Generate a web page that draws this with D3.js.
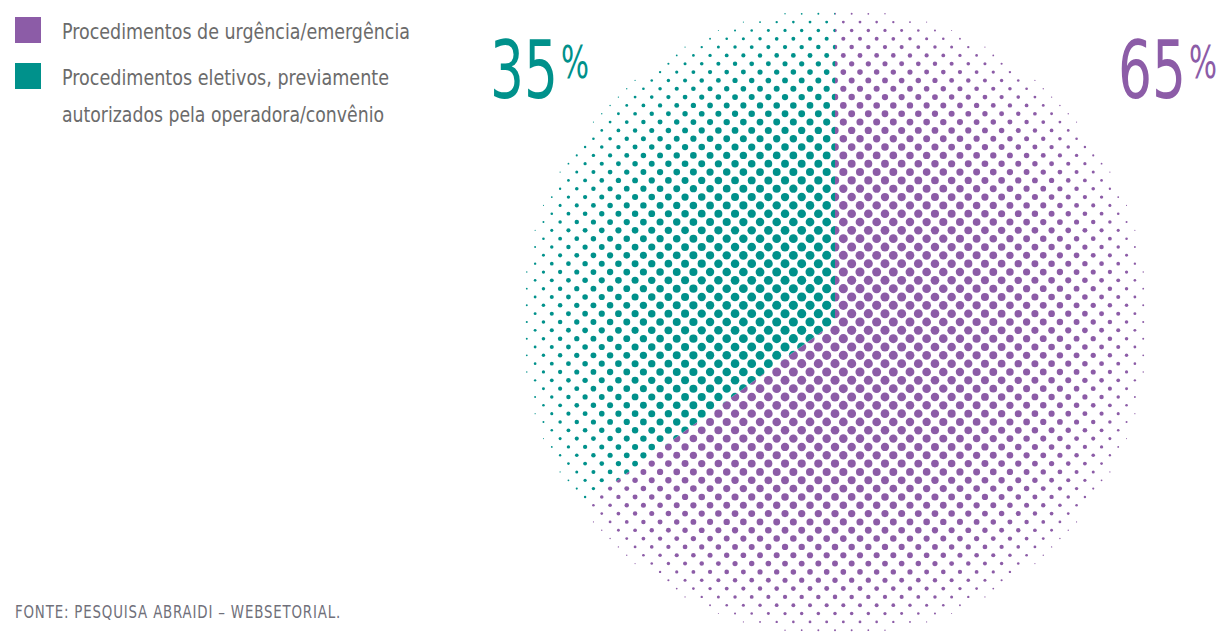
<!DOCTYPE html>
<html>
<head>
<meta charset="utf-8">
<script src="https://cdn.jsdelivr.net/npm/d3@7"></script>
<style>
  body { margin: 0; background: #fff; }
  svg { display: block; }
  text { font-family: "Liberation Sans Narrow", "DejaVu Sans Condensed", sans-serif; }
</style>
</head>
<body>
<script>
// data
var categories = ["Procedimentos de urgência/emergência",
                  "Procedimentos eletivos, previamente autorizados pela operadora/convênio"];
var values = [65, 35];
var colors = ["#8c5ca7", "#00918b"];
var legendLines = [["Procedimentos de urgência/emergência"],
                   ["Procedimentos eletivos, previamente", "autorizados pela operadora/convênio"]];
var legendWidths = [[348], [327], [322]];
var source = "FONTE: PESQUISA ABRAIDI – WEBSETORIAL.";

var width = 1220, height = 632;
var cx = 835, cy = 322, R = 316;
var step = 8.33;     // half-spacing of the staggered dot grid
var maxDot = 4.6;

var svg = d3.select("body").append("svg")
    .attr("width", width)
    .attr("height", height);

// halftone mask: dots shrink towards the rim
var dots = [];
for (var j = -40; j <= 40; j++) {
  for (var i = -40; i <= 40; i++) {
    if (Math.abs(i + j) % 2 != 1) continue;
    var x = i * step, y = j * step;
    var d = Math.sqrt(x * x + y * y);
    if (d >= R) continue;
    var r = maxDot * Math.sqrt(1 - (d / R) * (d / R));
    if (r < 0.4) continue;
    dots.push({x: cx + x, y: cy + y, r: r});
  }
}

var mask = svg.append("defs").append("mask")
    .attr("id", "dots")
    .attr("maskUnits", "userSpaceOnUse")
    .attr("x", 0).attr("y", 0)
    .attr("width", width).attr("height", height);

mask.selectAll("circle")
    .data(dots)
    .enter().append("circle")
    .attr("cx", function(d) { return d.x; })
    .attr("cy", function(d) { return d.y; })
    .attr("r", function(d) { return d.r; })
    .attr("fill", "#fff");

var pie = d3.pie().sort(null).startAngle(0).endAngle(2 * Math.PI);
var arc = d3.arc().innerRadius(0).outerRadius(R + 10);

svg.append("g")
    .attr("mask", "url(#dots)")
  .append("g")
    .attr("transform", "translate(" + cx + "," + cy + ")")
  .selectAll("path")
    .data(pie(values))
    .enter().append("path")
    .attr("d", arc)
    .attr("fill", function(d, i) { return colors[i]; });

// percentage labels
var pctPos = [{x: 1118}, {x: 490}];
values.forEach(function(v, i) {
  svg.append("text")
      .attr("x", pctPos[i].x)
      .attr("y", 98)
      .attr("fill", colors[i])
      .attr("textLength", 68)
      .attr("lengthAdjust", "spacingAndGlyphs")
      .style("font-size", "80px")
      .text(v);
  svg.append("text")
      .attr("x", pctPos[i].x + 71)
      .attr("y", 78)
      .attr("fill", colors[i])
      .attr("textLength", 28)
      .attr("lengthAdjust", "spacingAndGlyphs")
      .style("font-size", "44px")
      .text("%");
});

// legend
var legendY = [17, 63];
var legend = svg.append("g");
var lineNo = 0;
legendLines.forEach(function(lines, i) {
  legend.append("rect")
      .attr("x", 15)
      .attr("y", legendY[i])
      .attr("width", 26)
      .attr("height", 26)
      .attr("fill", colors[i]);
  lines.forEach(function(line, k) {
    legend.append("text")
        .attr("x", 62)
        .attr("y", legendY[i] + 22 + k * 36.5)
        .attr("fill", "#6b6b6b")
        .attr("textLength", legendWidths[lineNo++][0])
        .attr("lengthAdjust", "spacingAndGlyphs")
        .style("font-size", "21px")
        .text(line);
  });
});

// source
svg.append("text")
    .attr("x", 15)
    .attr("y", 618)
    .attr("fill", "#70707a")
    .attr("textLength", 326)
    .attr("lengthAdjust", "spacingAndGlyphs")
    .style("font-size", "18px")
    .style("letter-spacing", "1px")
    .text(source);
</script>
</body>
</html>
